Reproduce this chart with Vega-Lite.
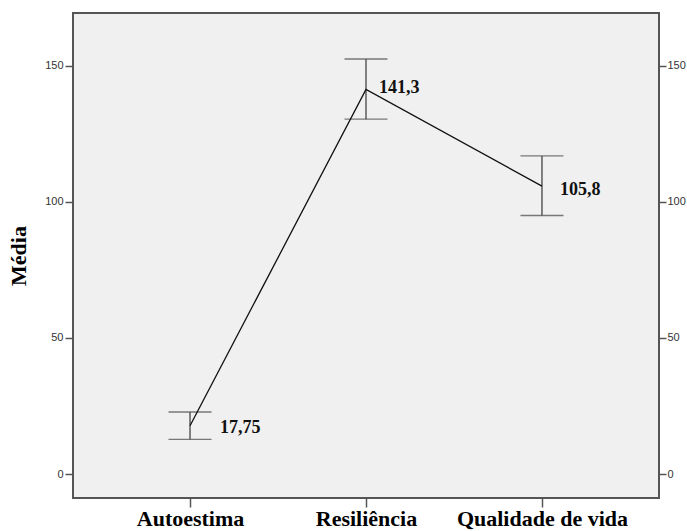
{
  "$schema": "https://vega.github.io/schema/vega-lite/v6.json",
  "autosize": {"type": "none"},
  "padding": {"left": 73, "top": 13, "right": 28, "bottom": 33},
  "width": 586,
  "height": 485,
  "background": "white",
  "config": {
    "view": {"fill": "#f0f0f0", "stroke": "#555555", "strokeWidth": 2}
  },
  "data": {
    "values": [
      {"var": "Autoestima", "mean": 17.75, "low": 12.75, "high": 22.8, "label": "17,75"},
      {"var": "Resiliência", "mean": 141.3, "low": 130.4, "high": 152.5, "label": "141,3"},
      {"var": "Qualidade de vida", "mean": 105.8, "low": 95.0, "high": 116.9, "label": "105,8"}
    ]
  },
  "encoding": {
    "x": {
      "field": "var", "type": "nominal", "sort": null,
      "scale": {"type": "point", "padding": 0.665},
      "axis": {
        "title": null, "domain": false, "labelAngle": 0, "tickSize": 9, "tickColor": "#555555", "tickWidth": 1.5,
        "labelFont": "Liberation Serif", "labelFontWeight": "bold", "labelFontSize": 22, "labelColor": "#000000",
        "labelPadding": 1
      }
    }
  },
  "layer": [
    {
      "mark": {"type": "rule", "color": "#444444", "strokeWidth": 1.3},
      "encoding": {
        "y": {
          "field": "low", "type": "quantitative",
          "scale": {"domain": [-8.8, 169.4], "nice": false, "zero": false},
          "axis": {
            "title": "Média", "titleFont": "Liberation Serif", "titleFontWeight": "bold", "titleFontSize": 22,
            "titleColor": "#000000", "titlePadding": 14,
            "values": [0, 50, 100, 150], "domain": false, "grid": false, "tickSize": 8, "tickColor": "#555555", "tickWidth": 1.5,
            "labelFont": "Liberation Sans", "labelFontSize": 11, "labelColor": "#333333", "labelPadding": 2
          }
        },
        "y2": {"field": "high"}
      }
    },
    {
      "mark": {"type": "tick", "color": "#444444", "size": 43, "thickness": 1.3},
      "encoding": {"y": {"field": "low", "type": "quantitative", "axis": null}}
    },
    {
      "mark": {"type": "tick", "color": "#444444", "size": 43, "thickness": 1.3},
      "encoding": {"y": {"field": "high", "type": "quantitative", "axis": null}}
    },
    {
      "mark": {"type": "line", "color": "#111111", "strokeWidth": 1.3},
      "encoding": {
        "y": {
          "field": "mean", "type": "quantitative",
          "axis": {
            "orient": "right", "title": null,
            "values": [0, 50, 100, 150], "domain": false, "grid": false, "tickSize": 7, "tickColor": "#555555", "tickWidth": 1.5,
            "labelFont": "Liberation Sans", "labelFontSize": 11, "labelColor": "#333333", "labelPadding": 1
          }
        }
      }
    },
    {
      "transform": [{"filter": "datum.var === 'Autoestima'"}],
      "mark": {"type": "text", "align": "left", "baseline": "middle", "dx": 30, "dy": 2, "font": "Liberation Serif", "fontSize": 18, "fontWeight": "bold", "color": "#111111"},
      "encoding": {
        "y": {"field": "mean", "type": "quantitative", "axis": null},
        "text": {"field": "label"}
      }
    },
    {
      "transform": [{"filter": "datum.var === 'Resiliência'"}],
      "mark": {"type": "text", "align": "left", "baseline": "middle", "dx": 13, "dy": -1, "font": "Liberation Serif", "fontSize": 18, "fontWeight": "bold", "color": "#111111"},
      "encoding": {
        "y": {"field": "mean", "type": "quantitative", "axis": null},
        "text": {"field": "label"}
      }
    },
    {
      "transform": [{"filter": "datum.var === 'Qualidade de vida'"}],
      "mark": {"type": "text", "align": "left", "baseline": "middle", "dx": 18, "dy": 4, "font": "Liberation Serif", "fontSize": 18, "fontWeight": "bold", "color": "#111111"},
      "encoding": {
        "y": {"field": "mean", "type": "quantitative", "axis": null},
        "text": {"field": "label"}
      }
    }
  ],
  "resolve": {"axis": {"y": "independent"}}
}
